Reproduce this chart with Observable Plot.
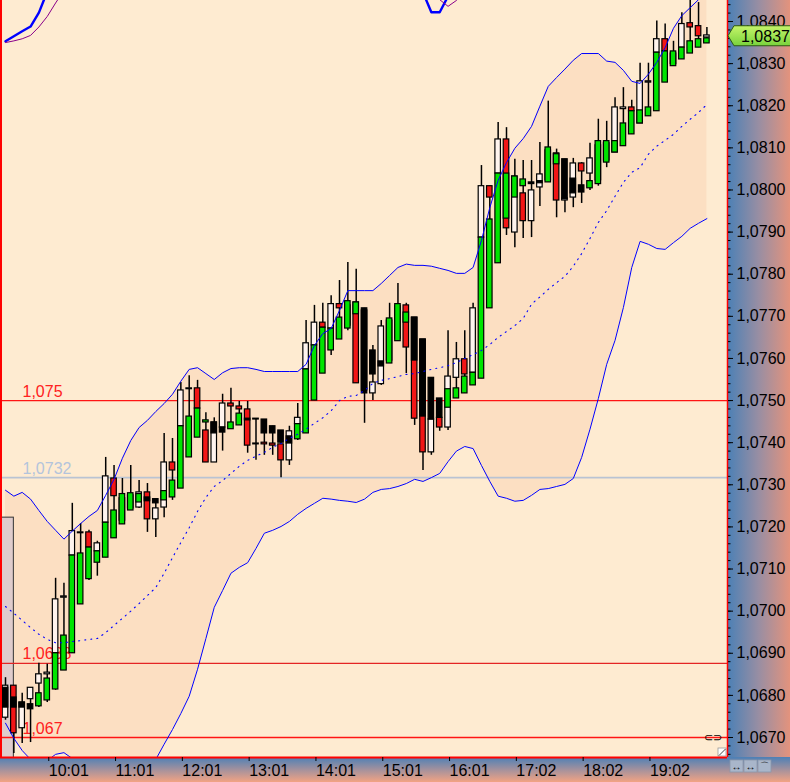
<!DOCTYPE html>
<html>
<head>
<meta charset="utf-8">
<script src="https://cdn.jsdelivr.net/npm/d3@7"></script>
<script src="https://cdn.jsdelivr.net/npm/@observablehq/plot@0.6"></script>
<style>
  html, body { margin: 0; padding: 0; background: #feebd1; }
  #chart { width: 790px; height: 782px; overflow: hidden; }
</style>
</head>
<body>
<div id="chart"></div>
<script>
// ---------------- DATA (EUR/USD, one candle every 7.5 min) ----------------
const high = [
  1.06842,1.06823,1.06805,1.06818,1.06876,1.06874,1.07078,1.07066,1.07256,1.07208,
  1.07192,1.07166,1.07365,1.07346,1.07315,1.07346,1.07310,1.07303,1.07266,1.07422,
  1.07410,1.07543,1.07559,1.07548,1.07471,1.07459,1.07515,1.07529,1.07498,1.07498,
  1.07457,1.07455,1.07439,1.07429,1.07439,1.07493,1.07690,1.07726,1.07731,1.07749,
  1.07785,1.07828,1.07812,1.07719,1.07631,1.07690,1.07731,1.07778,1.07731,1.07697,
  1.07645,1.07554,1.07505,1.07666,1.07638,1.07666,1.07731,1.08058,1.08009,1.08160,
  1.08148,1.08073,1.08070,1.08070,1.08113,1.08211,1.08097,1.08073,1.08075,1.08065,
  1.08111,1.08168,1.08163,1.08219,1.08243,1.08213,1.08301,1.08301,1.08401,1.08394,
  1.08353,1.08421,1.08457,1.08445,1.08386
];
const low = [
  1.06741,1.06662,1.06686,1.06688,1.06771,1.06783,1.06812,1.06859,1.06900,1.07016,
  1.07073,1.07083,1.07127,1.07173,1.07206,1.07239,1.07244,1.07187,1.07175,1.07222,
  1.07263,1.07291,1.07365,1.07412,1.07353,1.07353,1.07380,1.07432,1.07441,1.07375,
  1.07358,1.07370,1.07370,1.07317,1.07346,1.07405,1.07422,1.07500,1.07564,1.07607,
  1.07645,1.07666,1.07541,1.07446,1.07500,1.07536,1.07588,1.07641,1.07564,1.07441,
  1.07334,1.07370,1.07427,1.07429,1.07505,1.07517,1.07536,1.07552,1.07719,1.07826,
  1.07892,1.07863,1.07885,1.07887,1.07961,1.08018,1.07934,1.07946,1.07958,1.07968,
  1.07999,1.08009,1.08053,1.08089,1.08104,1.08132,1.08158,1.08175,1.08187,1.08255,
  1.08294,1.08310,1.08324,1.08338,1.08348
];
// rear candle (white = up, red = down)
const backOpen = [
  1.06747,1.06823,1.06722,1.06791,1.06828,1.06850,1.06900,1.07032,1.07132,1.07185,
  1.07187,1.07142,1.07210,1.07315,1.07215,1.07244,1.07246,1.07282,1.07218,1.07246,
  1.07353,1.07439,1.07527,1.07529,1.07429,1.07353,1.07436,1.07493,1.07486,1.07479,
  1.07396,1.07400,1.07398,1.07396,1.07358,1.07444,1.07574,1.07631,1.07685,1.07671,
  1.07729,1.07678,1.07733,1.07714,1.07517,1.07539,1.07595,1.07647,1.07726,1.07697,
  1.07645,1.07377,1.07459,1.07436,1.07554,1.07598,1.07566,1.07887,1.08009,1.08039,
  1.08120,1.07899,1.07992,1.07926,1.08006,1.08023,1.08087,1.07975,1.07982,1.08063,
  1.08039,1.08023,1.08070,1.08089,1.08192,1.08196,1.08158,1.08255,1.08326,1.08358,
  1.08299,1.08338,1.08396,1.08389,1.08362
];
const backClose = [
  1.06823,1.06710,1.06783,1.06818,1.06850,1.06854,1.07028,1.07035,1.07190,1.07187,
  1.07151,1.07161,1.07320,1.07273,1.07268,1.07275,1.07282,1.07218,1.07244,1.07353,
  1.07334,1.07524,1.07529,1.07481,1.07353,1.07448,1.07493,1.07486,1.07479,1.07393,
  1.07398,1.07396,1.07393,1.07358,1.07427,1.07459,1.07636,1.07685,1.07673,1.07729,
  1.07719,1.07726,1.07541,1.07524,1.07543,1.07676,1.07690,1.07724,1.07626,1.07457,
  1.07377,1.07455,1.07436,1.07557,1.07598,1.07562,1.07719,1.08009,1.07982,1.08120,
  1.07909,1.08032,1.07926,1.07999,1.08037,1.08094,1.07975,1.07980,1.08063,1.08044,
  1.08075,1.08106,1.08111,1.08196,1.08196,1.08187,1.08258,1.08258,1.08358,1.08329,
  1.08324,1.08394,1.08386,1.08365,1.08367
];
// front candle (green = up, black = down)
const frontOpen = [
  1.06818,1.06795,1.06783,1.06779,1.06774,1.06788,1.06814,1.06859,1.06900,1.07016,
  1.07076,1.07115,1.07127,1.07173,1.07206,1.07239,1.07258,1.07270,1.07266,1.07263,
  1.07270,1.07291,1.07365,1.07412,1.07448,1.07448,1.07436,1.07432,1.07441,1.07457,
  1.07457,1.07455,1.07439,1.07429,1.07415,1.07408,1.07422,1.07500,1.07564,1.07619,
  1.07645,1.07671,1.07705,1.07719,1.07619,1.07593,1.07588,1.07641,1.07685,1.07697,
  1.07645,1.07554,1.07505,1.07483,1.07505,1.07517,1.07536,1.07552,1.07719,1.07826,
  1.07932,1.07982,1.08009,1.08018,1.08021,1.08018,1.08061,1.08073,1.08027,1.08011,
  1.08004,1.08014,1.08065,1.08089,1.08104,1.08132,1.08158,1.08175,1.08187,1.08255,
  1.08294,1.08310,1.08324,1.08338,1.08348
];
const frontClose = [
  1.06771,1.06771,1.06771,1.06767,1.06805,1.06840,1.06900,1.06942,1.07132,1.07137,
  1.07151,1.07142,1.07210,1.07239,1.07278,1.07280,1.07278,1.07261,1.07256,1.07285,
  1.07310,1.07439,1.07462,1.07481,1.07453,1.07422,1.07424,1.07448,1.07469,1.07453,
  1.07455,1.07422,1.07422,1.07400,1.07398,1.07444,1.07574,1.07631,1.07673,1.07671,
  1.07697,1.07736,1.07733,1.07517,1.07562,1.07581,1.07695,1.07729,1.07709,1.07595,
  1.07462,1.07455,1.07459,1.07527,1.07529,1.07557,1.07566,1.07887,1.07930,1.08039,
  1.08039,1.08032,1.08025,1.08014,1.08016,1.08101,1.08085,1.07978,1.07992,1.07994,
  1.08021,1.08116,1.08116,1.08116,1.08158,1.08187,1.08189,1.08196,1.08326,1.08329,
  1.08329,1.08338,1.08353,1.08358,1.08360
];
// Bollinger bands
const upperBand = [
  1.07287,1.07273,1.07282,1.07266,1.07239,1.07213,1.07192,1.07171,1.07190,1.07208,
  1.07225,1.07239,1.07275,1.07313,1.07363,1.07405,1.07436,1.07453,1.07474,1.07493,
  1.07515,1.07546,1.07574,1.07578,1.07564,1.07550,1.07566,1.07576,1.07578,1.07578,
  1.07574,1.07569,1.07569,1.07569,1.07569,1.07569,1.07586,1.07631,1.07659,1.07671,
  1.07714,1.07761,1.07761,1.07761,1.07761,1.07778,1.07797,1.07816,1.07824,1.07821,
  1.07821,1.07819,1.07814,1.07809,1.07802,1.07802,1.07816,1.07880,1.07958,1.08023,
  1.08065,1.08099,1.08122,1.08151,1.08199,1.08246,1.08267,1.08287,1.08308,1.08324,
  1.08324,1.08324,1.08306,1.08303,1.08284,1.08258,1.08253,1.08275,1.08303,1.08338,
  1.08384,1.08414,1.08433,1.08452,1.08471
];
const middleBand = [
  1.07011,1.06995,1.06978,1.06961,1.06945,1.06933,1.06925,1.06925,1.06928,1.06930,
  1.06933,1.06935,1.06949,1.06966,1.06983,1.07000,1.07018,1.07037,1.07056,1.07090,
  1.07127,1.07163,1.07198,1.07237,1.07270,1.07296,1.07310,1.07327,1.07344,1.07358,
  1.07368,1.07377,1.07389,1.07398,1.07410,1.07420,1.07432,1.07446,1.07459,1.07476,
  1.07500,1.07510,1.07512,1.07524,1.07541,1.07548,1.07552,1.07557,1.07562,1.07564,
  1.07569,1.07574,1.07578,1.07583,1.07590,1.07600,1.07609,1.07619,1.07633,1.07650,
  1.07664,1.07678,1.07695,1.07729,1.07746,1.07764,1.07780,1.07795,1.07819,1.07849,
  1.07885,1.07923,1.07951,1.07985,1.08018,1.08042,1.08053,1.08085,1.08104,1.08118,
  1.08132,1.08151,1.08168,1.08184,1.08203
];
const lowerBand = [
  1.06734,1.06698,1.06669,1.06648,1.06640,1.06645,1.06660,1.06664,1.06650,1.06645,
  1.06640,1.06631,1.06624,1.06620,1.06603,1.06593,1.06601,1.06622,1.06648,1.06684,
  1.06719,1.06757,1.06798,1.06862,1.06935,1.07009,1.07049,1.07090,1.07104,1.07115,
  1.07149,1.07185,1.07192,1.07201,1.07213,1.07230,1.07244,1.07256,1.07268,1.07266,
  1.07263,1.07261,1.07258,1.07266,1.07282,1.07289,1.07291,1.07296,1.07303,1.07313,
  1.07308,1.07317,1.07327,1.07355,1.07380,1.07391,1.07386,1.07346,1.07308,1.07273,
  1.07268,1.07261,1.07263,1.07275,1.07289,1.07291,1.07296,1.07301,1.07315,1.07365,
  1.07432,1.07505,1.07586,1.07643,1.07721,1.07816,1.07878,1.07871,1.07861,1.07859,
  1.07875,1.07890,1.07909,1.07921,1.07932
];
// second indicator, visible only where it dips into the window
const outerBlueIdx = [0, 1, 2, 3, 4, 5];
const outerBlue    = [1.08353, 1.08365, 1.08377, 1.08388, 1.08421, 1.08471];
const outerPurpleIdx = [0, 1, 2, 3, 4, 5, 6, 7];
const outerPurple    = [1.08350, 1.08354, 1.08359, 1.08367, 1.08387, 1.08412, 1.08444, 1.08474];
const outerBlue2Idx = [50, 51, 52, 53];
const outerBlue2    = [1.08469, 1.08422, 1.08422, 1.08460];
const outerPurple2Idx = [52, 53, 54, 55];
const outerPurple2    = [1.08452, 1.08436, 1.08450, 1.08469];

const timeTickIndex  = [5, 13, 21, 29, 37, 45, 53, 61, 69, 77];
const timeTickLabels = ["10:01","11:01","12:01","13:01","14:01","15:01","16:01","17:02","18:02","19:02"];
const priceTicks = [1.0670,1.0680,1.0690,1.0700,1.0710,1.0720,1.0730,1.0740,1.0750,
                    1.0760,1.0770,1.0780,1.0790,1.0800,1.0810,1.0820,1.0830,1.0840];
const levelValues = [1.0750, 1.07317, 1.06876, 1.0670];
const levelLabels = ["1,075", "1,0732", "1,0688", "1,067"];
const lastPrice = 1.08365;
const lastPriceLabel = "1,0837";
const selectionBox = [{fromIdx: -0.6, toIdx: 1, lowPrice: 1.0660, highPrice: 1.07222}];

// ---------------- SCALES / STYLE ----------------
const xDomain = [-0.599, 86.467];
const yDomain = [1.066525, 1.084499];
const HW = 0.33; // half body width in candle units

const candles = high.map((h, i) => ({i, high: h, low: low[i], bo: backOpen[i], bc: backClose[i], fo: frontOpen[i], fc: frontClose[i]}));
const bands = upperBand.map((u, i) => ({i, upper: u, mid: middleBand[i], lower: lowerBand[i]}));
const levels = levelValues.map((v, k) => ({value: v, label: levelLabels[k], k}));
const levelStroke = ["#ff1414", "#b9c3d3", "#e42424", "#ff1414"];
const levelWidth  = [1.3, 1.6, 1.1, 1.3];
const levelText   = ["#ff2020", "#b3c4dc", "#ff2020", "#ff2020"];
const minorTicks = d3.range(0, 92).map(k => 1.0666 + k * 0.0002).filter(v => v > yDomain[0] && v < yDomain[1]);

function axisBackgrounds(index, scales, values, dims) {
  const {width, height, marginRight, marginBottom} = dims;
  const x0 = width - marginRight, y0 = height - marginBottom;
  const g = d3.create("svg:g");
  const defs = g.append("defs");
  const gr = defs.append("linearGradient").attr("id", "gRight").attr("x1", 0).attr("x2", 1).attr("y1", 0).attr("y2", 0);
  gr.append("stop").attr("offset", 0).attr("stop-color", "#4a80b6");
  gr.append("stop").attr("offset", 0.5).attr("stop-color", "#988ea3");
  gr.append("stop").attr("offset", 1).attr("stop-color", "#e3937d");
  const gb = defs.append("linearGradient").attr("id", "gBottom").attr("x1", 0).attr("x2", 0).attr("y1", 0).attr("y2", 1);
  gb.append("stop").attr("offset", 0).attr("stop-color", "#4d80b6");
  gb.append("stop").attr("offset", 0.5).attr("stop-color", "#a3919d");
  gb.append("stop").attr("offset", 1).attr("stop-color", "#f2a383");
  g.append("rect").attr("x", x0).attr("y", 0).attr("width", marginRight).attr("height", y0).attr("fill", "url(#gRight)");
  g.append("rect").attr("x", 0).attr("y", y0).attr("width", x0).attr("height", marginBottom).attr("fill", "url(#gBottom)");
  g.append("rect").attr("x", x0).attr("y", y0).attr("width", marginRight).attr("height", marginBottom).attr("fill", "url(#gBottom)");
  [0, 1, 2].forEach(k => {
    g.append("rect").attr("x", x0 + 3 + k * 14).attr("y", y0 + 3).attr("width", 13).attr("height", 12)
      .attr("fill", "#a9b6ca").attr("stroke", "#8b97aa").attr("stroke-width", 0.8);
  });
  const t = g.append("g").attr("text-anchor", "middle").attr("fill", "#000");
  t.append("text").attr("x", x0 + 9.5).attr("y", y0 + 13).attr("font-size", 10).text("↔");
  t.append("text").attr("x", x0 + 23.5).attr("y", y0 + 13).attr("font-size", 10).text("↔");
  t.append("text").attr("x", x0 + 37.5).attr("y", y0 + 12).attr("font-size", 9).text("⌒");
  return g.node();
}

function cornerGrip(index, scales, values, dims) {
  const {width, height, marginRight, marginBottom} = dims;
  const x0 = width - marginRight, y0 = height - marginBottom;
  const g = d3.create("svg:g");
  g.append("rect").attr("x", x0 - 9).attr("y", y0 - 9).attr("width", 8).attr("height", 8)
    .attr("fill", "#ffffff").attr("stroke", "#999").attr("stroke-width", 0.8);
  g.append("line").attr("x1", x0 - 8).attr("y1", y0 - 1.5).attr("x2", x0 - 1.5).attr("y2", y0 - 8)
    .attr("stroke", "#444").attr("stroke-width", 1);
  return g.node();
}

function priceTag(index, scales, values, dims) {
  const {width, marginRight} = dims;
  const x0 = width - marginRight;
  const y = scales.y(lastPrice);
  const g = d3.create("svg:g");
  const gr = g.append("defs").append("linearGradient").attr("id", "gTag").attr("x1", 0).attr("x2", 0).attr("y1", 0).attr("y2", 1);
  gr.append("stop").attr("offset", 0).attr("stop-color", "#c6f56a");
  gr.append("stop").attr("offset", 1).attr("stop-color", "#78d23c");
  const pts = [[x0 + 1, y], [x0 + 7, y - 10], [width + 2, y - 10], [width + 2, y + 10], [x0 + 7, y + 10]];
  g.append("polygon").attr("points", pts.map(p => p.join(",")).join(" "))
    .attr("fill", "url(#gTag)").attr("stroke", "#2c5a12").attr("stroke-width", 1);
  g.append("text").attr("x", x0 + 14).attr("y", y).attr("dy", "0.36em")
    .attr("text-anchor", "start").attr("font-size", 16).attr("fill", "#000").text(lastPriceLabel);
  return g.node();
}

const chart = Plot.plot({
  width: 790, height: 782,
  marginTop: 0, marginLeft: 0, marginRight: 63, marginBottom: 25,
  style: {background: "#feebd1", fontFamily: "'Liberation Sans', Arial, sans-serif", fontSize: "16px", color: "#000", overflow: "hidden"},
  x: {type: "linear", domain: xDomain, axis: null},
  y: {type: "linear", domain: yDomain, axis: null},
  marks: [
    axisBackgrounds,
    Plot.areaY(bands, {x: "i", y1: "lower", y2: "upper", fill: "#fcdfc2", clip: true}),
    Plot.rect(selectionBox, {x1: "fromIdx", x2: "toIdx", y1: "lowPrice", y2: "highPrice", fill: "#dfcccc", stroke: "#333", strokeWidth: 1, clip: true}),
    Plot.ruleY(levels, {y: "value", stroke: d => levelStroke[d.k], strokeWidth: d => levelWidth[d.k]}),
    Plot.text(levels, {y: "value", text: "label", frameAnchor: "left", textAnchor: "start", dx: 22, dy: -9, fill: d => levelText[d.k], fontSize: 16}),
    Plot.ruleX(candles, {x: "i", y1: "low", y2: "high", stroke: "#000", strokeWidth: 1.5, clip: true}),
    Plot.rect(candles, {x1: d => d.i - HW, x2: d => d.i + HW, y1: "bo", y2: "bc",
      fill: d => d.bc >= d.bo ? "#fff4ee" : "#f21616", stroke: "#000", strokeWidth: 1.2}),
    Plot.rect(candles, {x1: d => d.i - HW, x2: d => d.i + HW, y1: "fo", y2: "fc",
      fill: d => d.fc >= d.fo ? "#00e400" : "#000000", stroke: "#000", strokeWidth: 1.2}),
    Plot.line(bands, {x: "i", y: "upper", stroke: "#0000ff", strokeWidth: 1, clip: true}),
    Plot.line(bands, {x: "i", y: "lower", stroke: "#0000ff", strokeWidth: 1, clip: true}),
    Plot.line(bands, {x: "i", y: "mid", stroke: "#0000ff", strokeWidth: 1.1, strokeDasharray: "1.1,5", clip: true}),
    Plot.line(outerBlueIdx, {x: d => d, y: (d, k) => outerBlue[k], stroke: "#0000ff", strokeWidth: 2.4, clip: true}),
    Plot.line(outerPurpleIdx, {x: d => d, y: (d, k) => outerPurple[k], stroke: "#8a008a", strokeWidth: 1, clip: true}),
    Plot.line(outerBlue2Idx, {x: d => d, y: (d, k) => outerBlue2[k], stroke: "#0000ff", strokeWidth: 2.4, clip: true}),
    Plot.line(outerPurple2Idx, {x: d => d, y: (d, k) => outerPurple2[k], stroke: "#8a008a", strokeWidth: 1, clip: true}),
    Plot.text([levelValues[3]], {y: d => d, text: () => "⊂⊃", frameAnchor: "right", textAnchor: "end", dx: -6, fontSize: 11, fill: "#000"}),
    cornerGrip,
    Plot.ruleX([xDomain[0]], {stroke: "#ff0000", strokeWidth: 3}),
    Plot.ruleX([xDomain[1]], {stroke: "#ff0000", strokeWidth: 1.5}),
    Plot.ruleY([yDomain[0]], {stroke: "#ff0000", strokeWidth: 2}),
    Plot.axisX({ticks: timeTickIndex, tickFormat: d => timeTickLabels[timeTickIndex.indexOf(d)], tickSize: 4, tickPadding: 3,
      textAnchor: "start", dx: 1.5, label: null, fontSize: 16}),
    Plot.axisY({anchor: "right", ticks: priceTicks, tickFormat: d => d.toFixed(4).replace(".", ","), tickSize: 5, tickPadding: 4, label: null, fontSize: 16}),
    Plot.axisY({anchor: "right", ticks: minorTicks, tickFormat: () => "", tickSize: 2.5, label: null}),
    priceTag
  ]
});
document.getElementById("chart").appendChild(chart);
</script>
</body>
</html>
